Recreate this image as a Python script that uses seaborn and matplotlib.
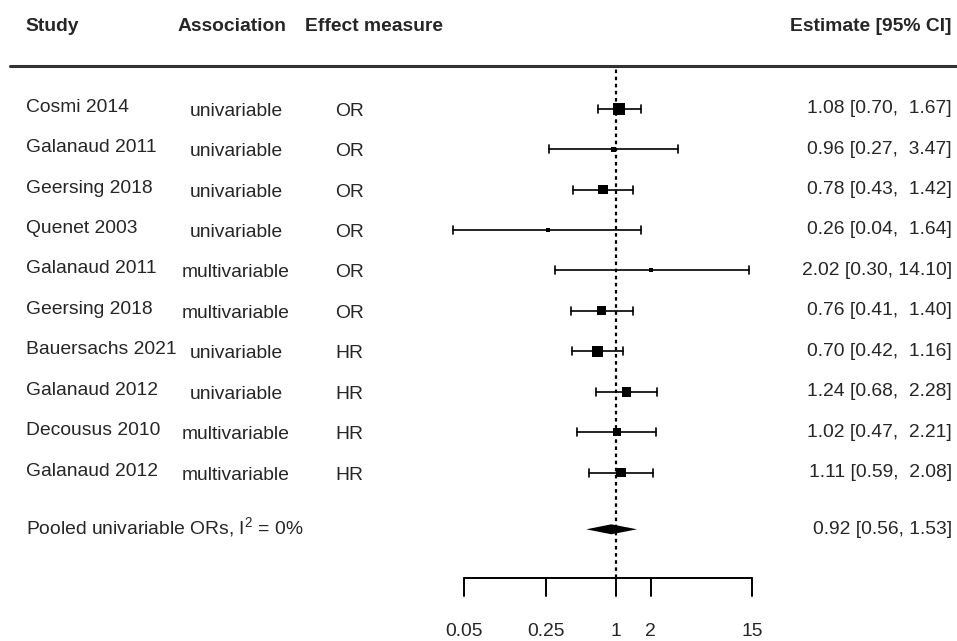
import numpy as np
import matplotlib
matplotlib.use("Agg")
import matplotlib.pyplot as plt
import matplotlib.transforms as mtransforms
import seaborn as sns

studies = ["Cosmi 2014", "Galanaud 2011", "Geersing 2018", "Quenet 2003", "Galanaud 2011",
           "Geersing 2018", "Bauersachs 2021", "Galanaud 2012", "Decousus 2010", "Galanaud 2012"]
association = ["univariable", "univariable", "univariable", "univariable", "multivariable",
               "multivariable", "univariable", "univariable", "multivariable", "multivariable"]
measure = ["OR", "OR", "OR", "OR", "OR", "OR", "HR", "HR", "HR", "HR"]
estimate = [1.08, 0.96, 0.78, 0.26, 2.02, 0.76, 0.70, 1.24, 1.02, 1.11]
ci_low = [0.70, 0.27, 0.43, 0.04, 0.30, 0.41, 0.42, 0.68, 0.47, 0.59]
ci_high = [1.67, 3.47, 1.42, 1.64, 14.10, 1.40, 1.16, 2.28, 2.21, 2.08]
weight = [12, 5, 9.5, 4, 4, 9, 11, 9.5, 8, 9.5]   # relative box size

pooled_label = "Pooled univariable ORs, I$^2$ = 0%"
pooled_est, pooled_low, pooled_high = 0.92, 0.56, 1.53

tick_values = [0.05, 0.25, 1, 2, 15]
tick_labels = ["0.05", "0.25", "1", "2", "15"]

headers = ["Study", "Association", "Effect measure", "Estimate [95% CI]"]

sns.set_theme(style="white")
plt.rcParams["font.family"] = ["Liberation Sans", "DejaVu Sans"]
plt.rcParams["mathtext.fontset"] = "custom"
plt.rcParams["mathtext.rm"] = "Liberation Sans"
FS = 13.9

W, H = 957, 641
fig = plt.figure(figsize=(W / 100, H / 100), dpi=100)
ax = fig.add_axes([0, 0, 1, 1])
ax.set_xscale("log")
ax.axis("off")

# pixel geometry
ppd = (752.3 - 464.3) / np.log10(15 / 0.05)
lo_log = np.log10(0.05) - 464.3 / ppd
hi_log = np.log10(15) + (W - 752.3) / ppd
ax.set_xlim(10 ** lo_log, 10 ** hi_log)
row_h = 40.45
y1_px = 472.7
def py(p):
    return 1 - (p - y1_px) / row_h
ax.set_ylim(py(H), py(0))

k = len(studies)
rows = np.arange(k, 0, -1).astype(float)
trans = mtransforms.blended_transform_factory(ax.transAxes, ax.transData)

# reference line
ax.plot([1, 1], [py(578), py(68)], color="black", lw=1.6, ls=(0, (1.6, 1.6)), zorder=1)

# CIs
cap = 4 / row_h
for r, lo, hi in zip(rows, ci_low, ci_high):
    ax.plot([lo, hi], [r, r], color="black", lw=1.2, zorder=2)
    ax.plot([lo, lo], [r - cap, r + cap], color="black", lw=1.2, zorder=2)
    ax.plot([hi, hi], [r - cap, r + cap], color="black", lw=1.2, zorder=2)

sizes = [(w * 0.72) ** 2 for w in weight]
sns.scatterplot(x=estimate, y=rows, marker="s", color="black", s=sizes,
                linewidth=0, ax=ax, legend=False, zorder=3)

# pooled diamond
yp = py(529.3)
hh = 5 / row_h
ax.fill([pooled_low, pooled_est, pooled_high, pooled_est],
        [yp, yp + hh, yp, yp - hh], color="black", lw=0, zorder=3)

# header
hy = py(27)
ax.text(26 / W, hy, headers[0], transform=trans, ha="left", va="center", fontsize=FS, fontweight="bold")
ax.text(178 / W, hy, headers[1], transform=trans, ha="left", va="center", fontsize=FS, fontweight="bold")
ax.text(305 / W, hy, headers[2], transform=trans, ha="left", va="center", fontsize=FS, fontweight="bold")
ax.text(952 / W, hy, headers[3], transform=trans, ha="right", va="center", fontsize=FS, fontweight="bold")
ax.plot([10 / W, 1], [py(66), py(66)], transform=trans, color="#333333", lw=2.2, clip_on=False)

# rows text
for r, s, a, m, e, lo, hi in zip(rows, studies, association, measure, estimate, ci_low, ci_high):
    ax.text(26 / W, r + 1.5 / row_h, s, transform=trans, ha="left", va="center", fontsize=FS)
    ax.text(236 / W, r - 2.5 / row_h, a, transform=trans, ha="center", va="center", fontsize=FS)
    ax.text(335 / W, r - 2.5 / row_h, m, transform=trans, ha="left", va="center", fontsize=FS)
    ax.text(952 / W, r, f"{e:.2f} [{lo:.2f}, {hi:5.2f}]",
            transform=trans, ha="right", va="center", fontsize=FS)

ax.text(26 / W, yp + 1.5 / row_h, pooled_label, transform=trans, ha="left", va="center", fontsize=FS)
ax.text(952 / W, yp, f"{pooled_est:.2f} [{pooled_low:.2f}, {pooled_high:.2f}]",
        transform=trans, ha="right", va="center", fontsize=FS)

# x axis
ya = py(578)
yt = py(596)
ax.plot([tick_values[0], tick_values[-1]], [ya, ya], color="black", lw=1.4)
for tv, tl in zip(tick_values, tick_labels):
    ax.plot([tv, tv], [ya, yt], color="black", lw=1.4)
    ax.text(tv, py(631), tl, ha="center", va="center", fontsize=FS)

fig.savefig("out.png", dpi=100, facecolor="white")
